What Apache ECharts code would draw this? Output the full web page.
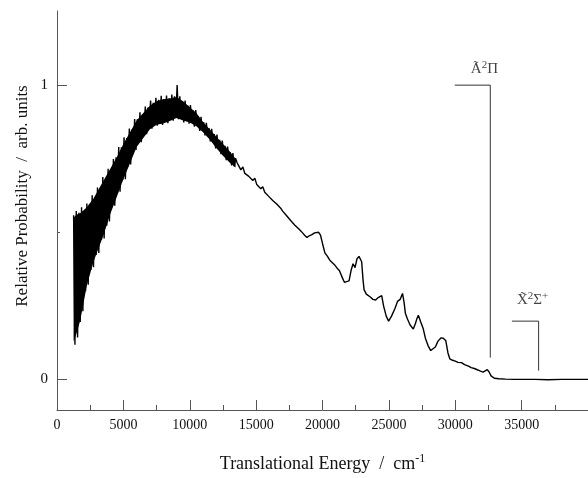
<!DOCTYPE html>
<html>
<head>
<meta charset="utf-8">
<script src="https://cdn.jsdelivr.net/npm/echarts@6/dist/echarts.min.js"></script>
<style>
  html, body { margin: 0; padding: 0; background: #fff; }
  #chart { width: 588px; height: 478px; }
</style>
</head>
<body>
<div id="chart"></div>
<script>
// Translational energy distribution

// noisy low-energy part (cm-1)
var energyLow = [
  1250, 1350, 1450, 1550, 1650, 1750, 1850, 1950, 2050, 2150,
  2250, 2350, 2450, 2550, 2650, 2750, 2850, 2950, 3050, 3150,
  3250, 3350, 3450, 3550, 3650, 3750, 3850, 3950, 4050, 4150,
  4250, 4350, 4450, 4550, 4650, 4750, 4850, 4950, 5050, 5150,
  5250, 5350, 5450, 5550, 5650, 5750, 5850, 5950, 6050, 6150,
  6250, 6350, 6450, 6550, 6650, 6750, 6850, 6950, 7050, 7150,
  7250, 7350, 7450, 7550, 7650, 7750, 7850, 7950, 8050, 8150,
  8250, 8350, 8450, 8550, 8650, 8750, 8850, 8950, 9050, 9150,
  9250, 9350, 9450, 9550, 9650, 9750, 9850, 9950, 10050, 10150,
  10250, 10350, 10450, 10550, 10650, 10750, 10850, 10950, 11050, 11150,
  11250, 11350, 11450, 11550, 11650, 11750, 11850, 11950, 12050, 12150,
  12250, 12350, 12450, 12550, 12650, 12750, 12850, 12950, 13050, 13150,
  13250, 13350, 13450
];
var probLow = [
  0.558, 0.118, 0.572, 0.142, 0.566, 0.195, 0.585, 0.232, 0.571, 0.300,
  0.598, 0.322, 0.594, 0.372, 0.626, 0.381, 0.618, 0.423, 0.652, 0.430,
  0.648, 0.475, 0.688, 0.479, 0.681, 0.522, 0.716, 0.537, 0.713, 0.585,
  0.749, 0.590, 0.755, 0.634, 0.790, 0.638, 0.789, 0.678, 0.823, 0.680,
  0.820, 0.724, 0.853, 0.730, 0.849, 0.775, 0.885, 0.780, 0.884, 0.812,
  0.908, 0.806, 0.900, 0.836, 0.927, 0.833, 0.924, 0.861, 0.948, 0.852,
  0.940, 0.876, 0.957, 0.862, 0.950, 0.879, 0.964, 0.865, 0.953, 0.882,
  0.965, 0.871, 0.955, 0.887, 0.968, 0.879, 0.962, 0.895, 1.000, 0.884,
  0.962, 0.890, 0.946, 0.873, 0.948, 0.882, 0.931, 0.869, 0.932, 0.876,
  0.914, 0.859, 0.915, 0.862, 0.893, 0.844, 0.892, 0.846, 0.874, 0.829,
  0.872, 0.828, 0.854, 0.809, 0.852, 0.805, 0.834, 0.785, 0.832, 0.784,
  0.814, 0.765, 0.812, 0.764, 0.794, 0.745, 0.791, 0.745, 0.772, 0.727,
  0.769, 0.724, 0.752
];

// solid core of the noisy band (lower and upper edge)
var bandEnergy = [
  1250, 1500, 1750, 2000, 2250, 2500, 2750, 3000, 3500, 4000,
  4500, 5000, 5500, 6000, 6500, 7000, 7500, 8000, 8500, 9000,
  9500, 10000, 10500, 11000, 11500, 12000, 12500, 13000, 13450
];
var bandLower = [
  0.130, 0.160, 0.200, 0.260, 0.320, 0.360, 0.400, 0.430, 0.490, 0.560,
  0.620, 0.680, 0.735, 0.790, 0.820, 0.850, 0.865, 0.870, 0.878, 0.888,
  0.880, 0.873, 0.860, 0.840, 0.815, 0.786, 0.760, 0.737, 0.720
];
var bandUpper = [
  0.550, 0.560, 0.565, 0.575, 0.585, 0.600, 0.615, 0.635, 0.675, 0.715,
  0.755, 0.800, 0.840, 0.880, 0.905, 0.930, 0.945, 0.952, 0.955, 0.960,
  0.945, 0.925, 0.905, 0.875, 0.850, 0.825, 0.800, 0.775, 0.750
];

// smoother high-energy part with the structure
var energyHigh = [
  13550, 13700, 13850, 14000, 14150, 14300, 14450, 14600, 14750, 14900,
  15050, 15200, 15350, 15500, 15650, 15800, 15950, 16100, 16250, 16400,
  16550, 16700, 16850, 17000, 17150, 17300, 17450, 17600, 17750, 17900,
  18050, 18200, 18350, 18500, 18650, 18830, 19000, 19200, 19400, 19550,
  19710, 19850, 20000, 20180, 20350, 20550, 20700, 20900, 21100, 21270,
  21500, 21650, 21800, 22000, 22150, 22300, 22450, 22600, 22750, 22830,
  22950, 23050, 23130, 23300, 23450, 23600, 23800, 24000, 24200, 24350,
  24460, 24600, 24800, 24980, 25200, 25450, 25650, 25850, 26030, 26150,
  26240, 26400, 26600, 26840, 27000, 27100, 27220, 27400, 27590, 27750,
  27950, 28150, 28300, 28500, 28700, 28920, 29100, 29290, 29450, 29590,
  29800, 30000, 30200, 30470, 30700, 31000, 31200, 31440, 31700, 31900,
  32100, 32250, 32410, 32550, 32700, 32940, 33300, 33800, 34430, 35000,
  36000, 37000, 38000, 39000, 40000
];
var probHigh = [
  0.738, 0.725, 0.712, 0.722, 0.700, 0.706, 0.690, 0.695, 0.676, 0.684,
  0.662, 0.668, 0.648, 0.655, 0.636, 0.640, 0.622, 0.628, 0.608, 0.612,
  0.596, 0.600, 0.582, 0.572, 0.578, 0.556, 0.560, 0.540, 0.545, 0.525,
  0.528, 0.512, 0.505, 0.498, 0.490, 0.482, 0.488, 0.492, 0.498, 0.502,
  0.500, 0.490, 0.462, 0.430, 0.420, 0.405, 0.402, 0.390, 0.378, 0.370,
  0.345, 0.330, 0.326, 0.335, 0.370, 0.393, 0.380, 0.410, 0.418, 0.423,
  0.400, 0.340, 0.305, 0.290, 0.285, 0.280, 0.272, 0.270, 0.278, 0.280,
  0.285, 0.250, 0.215, 0.198, 0.215, 0.240, 0.265, 0.272, 0.292, 0.260,
  0.225, 0.205, 0.185, 0.171, 0.190, 0.205, 0.218, 0.195, 0.172, 0.140,
  0.115, 0.098, 0.097, 0.110, 0.130, 0.141, 0.140, 0.131, 0.090, 0.070,
  0.065, 0.062, 0.058, 0.057, 0.050, 0.045, 0.040, 0.037, 0.032, 0.028,
  0.025, 0.030, 0.033, 0.025, 0.012, 0.004, 0.002, 0.001, 0.000, 0.000,
  0.000, -0.001, 0.000, 0.000, 0.000
];

var xTicks = [0, 5000, 10000, 15000, 20000, 25000, 30000, 35000];
var yLabelTicks = [0, 1];
var yMinorTicks = [0.5];

// thresholds of the two product states
var stateA = { energy: 32640, top: 1.0, bottom: 0.074, armStart: 29960 };
var stateX = { energy: 36280, top: 0.198, bottom: 0.03, armStart: 34270 };
var stateLabels = [
  { name: 'A', value: [32200, 1.054] },
  { name: 'X', value: [35830, 0.268] }
];

var curve = [];
energyLow.forEach(function (e, i) { curve.push([e, probLow[i]]); });
energyHigh.forEach(function (e, i) { curve.push([e, probHigh[i]]); });

function bracket(s) {
    return [[s.armStart, s.top], [s.energy, s.top], [s.energy, s.bottom]];
}

// the band is one polygon: upper edge left->right, lower edge back
function renderBand(params, api) {
    if (params.dataIndex !== 0) return;
    var pts = [];
    for (var i = 0; i < bandEnergy.length; i++) {
        pts.push(api.coord([bandEnergy[i], bandUpper[i]]));
    }
    for (var j = bandEnergy.length - 1; j >= 0; j--) {
        pts.push(api.coord([bandEnergy[j], bandLower[j]]));
    }
    return { type: 'polygon', shape: { points: pts }, style: { fill: '#000' } };
}

var serif = '"Liberation Serif", "DejaVu Serif", serif';
var axisGray = '#555';

var chart = echarts.init(document.getElementById('chart'), null, { renderer: 'canvas' });

chart.setOption({
    animation: false,
    backgroundColor: '#fff',
    grid: { left: 57, right: -7, top: 11, bottom: 63 },
    xAxis: {
        type: 'value',
        min: 0,
        max: 40000,
        interval: 5000,
        name: '{t|Translational Energy  /  cm}{s|-1}',
        nameLocation: 'middle',
        nameGap: 43,
        nameTextStyle: {
            rich: {
                t: { fontFamily: serif, fontSize: 18, color: '#111' },
                s: { fontFamily: serif, fontSize: 12, color: '#111', padding: [0, 0, 10, 0] }
            }
        },
        axisLine: { onZero: false, lineStyle: { color: axisGray, width: 1 } },
        axisTick: { inside: true, length: 10, lineStyle: { color: axisGray } },
        minorTick: { show: true, splitNumber: 2, length: 5, lineStyle: { color: axisGray } },
        axisLabel: {
            margin: 8,
            fontFamily: serif,
            fontSize: 14,
            color: '#111',
            customValues: xTicks,
            formatter: function (v) { return String(v); }
        },
        splitLine: { show: false }
    },
    yAxis: [{
        type: 'value',
        min: -0.104,
        max: 1.252,
        axisLine: { show: true, onZero: false, lineStyle: { color: axisGray, width: 1 } },
        axisTick: { inside: true, length: 10, customValues: yLabelTicks, lineStyle: { color: axisGray } },
        axisLabel: { margin: 9, fontFamily: serif, fontSize: 15, color: '#111', customValues: yLabelTicks },
        splitLine: { show: false }
    }, {
        type: 'value',
        min: -0.104,
        max: 1.252,
        position: 'left',
        axisLine: { show: false, onZero: false },
        axisTick: { show: true, inside: true, length: 3, customValues: yMinorTicks, lineStyle: { color: axisGray } },
        axisLabel: { show: false },
        splitLine: { show: false }
    }],
    graphic: [{
        type: 'text',
        x: 23,
        y: 196,
        rotation: Math.PI / 2,
        style: {
            text: 'Relative Probability  /  arb. units',
            font: '17px ' + serif,
            fill: '#111',
            align: 'center',
            verticalAlign: 'middle'
        }
    }],
    series: [{
        type: 'custom',
        renderItem: renderBand,
        data: bandEnergy.map(function (e, i) { return [e, bandLower[i], bandUpper[i]]; }),
        encode: { x: 0, y: [1, 2] },
        silent: true
    }, {
        type: 'line',
        data: curve,
        showSymbol: false,
        symbol: 'none',
        lineStyle: { color: '#000', width: 1.4 },
        silent: true
    }, {
        type: 'line',
        data: bracket(stateA),
        symbol: 'none',
        lineStyle: { color: '#333', width: 1 },
        silent: true
    }, {
        type: 'line',
        data: bracket(stateX),
        symbol: 'none',
        lineStyle: { color: '#333', width: 1 },
        silent: true
    }, {
        type: 'scatter',
        symbolSize: 0,
        silent: true,
        data: stateLabels,
        label: {
            show: true,
            position: 'inside',
            color: '#111',
            formatter: function (p) {
                return p.name === 'A'
                    ? '{b|\u00C3}{s|2}{b|\u03A0}'
                    : '{b|X\u0303}{s|2}{b|\u03A3}{s|+}';
            },
            rich: {
                b: { fontFamily: serif, fontSize: 15, color: '#111' },
                s: { fontFamily: serif, fontSize: 11, color: '#111', padding: [0, 0, 8, 0] }
            }
        }
    }]
});
</script>
</body>
</html>
